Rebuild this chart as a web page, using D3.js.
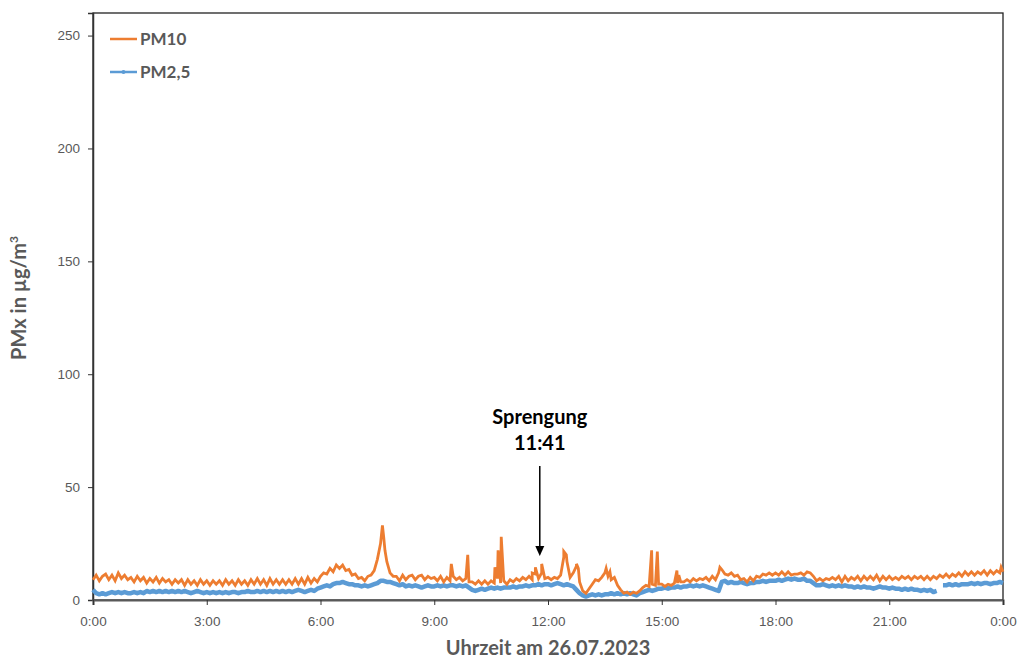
<!DOCTYPE html>
<html>
<head>
<meta charset="utf-8">
<script src="https://cdn.jsdelivr.net/npm/d3@7"></script>
<style>
  body { margin: 0; background: #fff; }
  svg { font-family: Lato, "Open Sans", sans-serif; }
</style>
</head>
<body>
<svg id="chart"></svg>
<script>
// Messwerte alle 5 Minuten (0:00 bis 24:00), eine Zeile pro Stunde
const pm10 = [
  9, 11, 8.5, 10.5, 11.5, 9, 11, 8.5, 12, 9.5, 11, 9,
  10, 8, 10.5, 8.5, 10, 7.5, 9.5, 8, 10, 7.5, 9.5, 8,
  9, 7, 9, 7.5, 9, 6.5, 9, 7, 8.5, 6.5, 9, 7,
  8.5, 6.5, 8.5, 7, 8.5, 6.5, 9, 7, 8.5, 6.5, 9, 7,
  8.5, 6.5, 9, 7, 9.5, 7, 9, 6.5, 9.5, 7, 9, 7,
  9, 7, 9, 7, 9.5, 7, 9.5, 7, 10, 7.5, 9.5, 8,
  10.5, 12, 11.5, 14, 12.5, 15.5, 14, 15.5, 13, 13.5, 11, 11.5,
  9.5, 10, 8.5, 10.5, 11, 13, 18, 25, 28, 17, 12, 10.5,
  10.5, 8.5, 11, 9, 10.5, 11, 9, 10.5, 11, 9, 10.5, 9.5,
  10, 8.5, 10.5, 8, 10, 8.5, 10.5, 9, 10, 8.5, 9.5, 8,
  8, 7, 8.5, 7, 8.5, 7, 8.5, 7.5, 9.5, 7.5, 8.5, 7,
  9, 8, 9.5, 8.5, 10, 9, 10.5, 9, 11.5, 9.5, 12, 9.5,
  10, 9, 10, 9.5, 11, 19, 17, 10, 12, 15, 8, 4,
  3, 5, 7, 9, 8.5, 10, 12, 10.5, 9, 10, 6.5, 4.5,
  3, 3.5, 2.5, 3.5, 3, 4, 5.5, 6.5, 6, 7, 6.5, 7,
  7, 6, 7, 6.5, 7.5, 7.5, 8, 8, 9, 8, 9.5, 8.5,
  9.5, 9, 10, 8.5, 10.5, 9, 12, 13.5, 11.5, 11, 12, 10.5,
  11, 9, 9.5, 8, 10, 8.5, 10.5, 10, 11.5, 11, 12, 11,
  12, 11, 12.5, 11, 12.5, 11, 11.5, 11.5, 12, 11, 12.5, 12,
  10.5, 8.5, 9.5, 8.5, 9.5, 9, 10, 9, 10.5, 8, 10.5, 8.5,
  10, 9, 10.5, 8.5, 10.5, 9, 10.5, 9, 11, 8.5, 10.5, 9,
  10.5, 9, 10, 9, 10.5, 9.5, 10.5, 9, 10.5, 9.5, 10.5, 9,
  10.5, 9, 10.5, 9.5, 11, 10, 11.5, 10, 11.5, 10.5, 12, 10.5,
  12.5, 11, 12.5, 11, 12.5, 11.5, 13, 11, 13, 11.5, 13, 12,
  12.5
];

// kurze PM10-Spitzen [Minute, Wert]
const pm10Peaks = [
  [458, 33], [462, 22], [567, 16], [593, 20], [636, 14.5], [641, 22], [646, 28],
  [695, 12], [700, 14.5], [710, 16], [745, 21.5], [749, 20], [765, 16], [768, 14],
  [812, 14], [818, 12.5], [884, 22], [893, 21.5], [924, 13], [927, 11], [992, 14.5],
  [1437, 14.5]
];

const pm25 = [
  4.5, 3, 2.5, 3, 2.5, 3, 3.5, 3, 3.5, 3, 3.5, 3,
  3, 3.5, 3, 3.5, 3, 4, 3.5, 4, 3.5, 4, 3.5, 4,
  3.5, 4, 3.5, 4, 3.5, 4, 3.5, 3, 3.5, 4, 3.5, 3,
  3.5, 3, 3.5, 3, 3.5, 3, 3.5, 3, 3.5, 3.5, 3, 3.5,
  3.5, 4, 3.5, 3.5, 4, 3.5, 4, 3.5, 4, 3.5, 4, 3.5,
  4, 3.5, 4, 3.5, 4, 4.5, 4, 3.5, 4, 4.5, 4, 5,
  5.5, 6, 6.5, 6, 7, 7.5, 7.5, 8, 7.5, 7, 7, 6.5,
  6.5, 6, 6.5, 6, 6.5, 7, 7.5, 8.5, 8.5, 8, 8, 7.5,
  7, 6.5, 7, 6, 6.5, 6, 6.5, 6, 5.5, 6, 6.5, 6,
  6, 6.5, 6, 6.5, 6, 6.5, 6.5, 6, 6.5, 6, 6.5, 5.5,
  4.5, 4, 4.5, 5, 4.5, 5, 5.5, 5, 5.5, 5, 5.5, 5.5,
  5.5, 6, 5.5, 6, 6, 6.5, 6, 6.5, 6.5, 7, 6.5, 7,
  7, 6.5, 7, 7.5, 7, 6.5, 7, 6.5, 6, 4.5, 3, 2,
  1.5, 2, 2.5, 2, 2.5, 2, 2.5, 2.5, 3, 2.5, 3, 2.5,
  3, 2.5, 3, 2.5, 2, 3, 3.5, 4, 4.5, 4, 4.5, 5,
  5, 5.5, 5, 5.5, 5.5, 6, 5.5, 6, 6, 6.5, 6, 6.5,
  6, 6.5, 6, 5.5, 5, 4.5, 4, 8, 8.5, 7.5, 8, 7.5,
  7.5, 8, 7.5, 7, 7.5, 7.5, 8, 8, 8.5, 8, 8.5, 8.5,
  8.5, 9, 8.5, 9, 9.5, 9, 9.5, 9, 9, 9.5, 8.5, 8.5,
  7.5, 6.5, 6.5, 7, 6.5, 6, 6.5, 6, 6.5, 6, 6.5, 6,
  6, 5.5, 6, 5.5, 6, 5.5, 5.5, 5, 5.5, 6, 5.5, 5.5,
  5, 5.5, 5, 5, 4.5, 5, 4.5, 5, 4.5, 4.5, 4, 4.5,
  4, 4.5, 3.5, 4, null, 6.5, 6.5, 7, 6.5, 7, 6.5, 7,
  7, 7, 7.5, 7, 7.5, 7, 7.5, 7.5, 7, 7.5, 7.5, 8,
  7.5
];

const yTicks = [0, 50, 100, 150, 200, 250];
const xTicks = [0, 180, 360, 540, 720, 900, 1080, 1260, 1440];
const seriesNames = ['PM10', 'PM2,5'];
const colors = ['#ED7D31', '#5B9BD5'];
const arrowTime = 707; // Pfeil der Sprengung (Beschriftung 11:41)

const W = 1021, H = 660;
const margin = { top: 13, right: 18, bottom: 60, left: 93 };
const width = W - margin.left - margin.right;
const height = H - margin.top - margin.bottom;

const svg = d3.select('#chart')
    .attr('width', W)
    .attr('height', H);

const g = svg.append('g')
    .attr('transform', 'translate(' + margin.left + ',' + margin.top + ')');

const x = d3.scaleLinear().domain([0, 1440]).range([0, width]);
const y = d3.scaleLinear().domain([0, 260]).range([height, 0]);

// Datenreihen aufbauen
const pm10Data = pm10.map((v, i) => [i * 5, v])
    .concat(pm10Peaks)
    .sort((a, b) => a[0] - b[0]);
const pm25Data = pm25.map((v, i) => [i * 5, v]);

// Rahmen
g.append('rect')
    .attr('width', width)
    .attr('height', height)
    .attr('fill', 'none')
    .attr('stroke', '#222')
    .attr('stroke-width', 1.3);

// Achsen
const yAxis = g.append('g')
    .call(d3.axisLeft(y).tickValues(yTicks).tickSize(5).tickPadding(8));
yAxis.select('.domain').attr('stroke', '#333').attr('stroke-width', 1.5);
yAxis.selectAll('.tick line').attr('stroke', '#333');
yAxis.selectAll('text').attr('fill', '#595959').style('font-size', '13.5px');

const fmt = m => ((m / 60) % 24) + ':00';
const xAxis = g.append('g')
    .attr('transform', 'translate(0,' + height + ')')
    .call(d3.axisBottom(x).tickValues(xTicks).tickFormat(fmt).tickSize(5).tickPadding(11));
xAxis.select('.domain').attr('stroke', '#595959').attr('stroke-width', 2.2);
xAxis.selectAll('.tick line').attr('stroke', '#333');
xAxis.selectAll('text').attr('fill', '#595959').style('font-size', '13.5px');

// Linien
const line = d3.line()
    .defined(d => d[1] !== null)
    .x(d => x(d[0]))
    .y(d => y(d[1]));

g.append('path')
    .datum(pm25Data)
    .attr('fill', 'none')
    .attr('stroke', colors[1])
    .attr('stroke-width', 4.5)
    .attr('stroke-linejoin', 'round')
    .attr('d', line);

g.append('path')
    .datum(pm10Data)
    .attr('fill', 'none')
    .attr('stroke', colors[0])
    .attr('stroke-width', 2.8)
    .attr('d', line);

// Legende
const legend = g.append('g').attr('transform', 'translate(17,26)');
seriesNames.forEach((name, i) => {
    const row = legend.append('g').attr('transform', 'translate(0,' + (i * 33) + ')');
    row.append('line')
        .attr('x1', 0).attr('x2', 27)
        .attr('stroke', colors[i])
        .attr('stroke-width', 2.5);
    if (i === 1) {
        row.append('circle').attr('cx', 13.5).attr('r', 2).attr('fill', colors[i]);
    }
    row.append('text')
        .attr('x', 30)
        .attr('dy', '0.35em')
        .attr('fill', '#595959')
        .style('font-size', '17px')
        .style('font-weight', 'bold')
        .text(name);
});

// Sprengung
const ann = g.append('g').attr('transform', 'translate(' + x(arrowTime) + ',0)');
ann.append('text')
    .attr('y', 411)
    .attr('text-anchor', 'middle')
    .style('font-size', '20px')
    .style('font-weight', 'bold')
    .text('Sprengung');
ann.append('text')
    .attr('y', 437)
    .attr('text-anchor', 'middle')
    .style('font-size', '20px')
    .style('font-weight', 'bold')
    .text('11:41');
ann.append('line')
    .attr('y1', 453).attr('y2', 534)
    .attr('stroke', '#000').attr('stroke-width', 1.5);
ann.append('path')
    .attr('d', 'M-4.5,533 L4.5,533 L0,543 Z')
    .attr('fill', '#000');

// Achsentitel
svg.append('text')
    .attr('transform', 'translate(26,298) rotate(-90)')
    .attr('text-anchor', 'middle')
    .attr('fill', '#595959')
    .style('font-size', '20px')
    .style('font-weight', 'bold')
    .html('PMx in µg/m<tspan dy="-8" font-size="12px">3</tspan>');

svg.append('text')
    .attr('x', margin.left + width / 2)
    .attr('y', 655)
    .attr('text-anchor', 'middle')
    .attr('fill', '#595959')
    .style('font-size', '20px')
    .style('font-weight', 'bold')
    .text('Uhrzeit am 26.07.2023');
</script>
</body>
</html>
